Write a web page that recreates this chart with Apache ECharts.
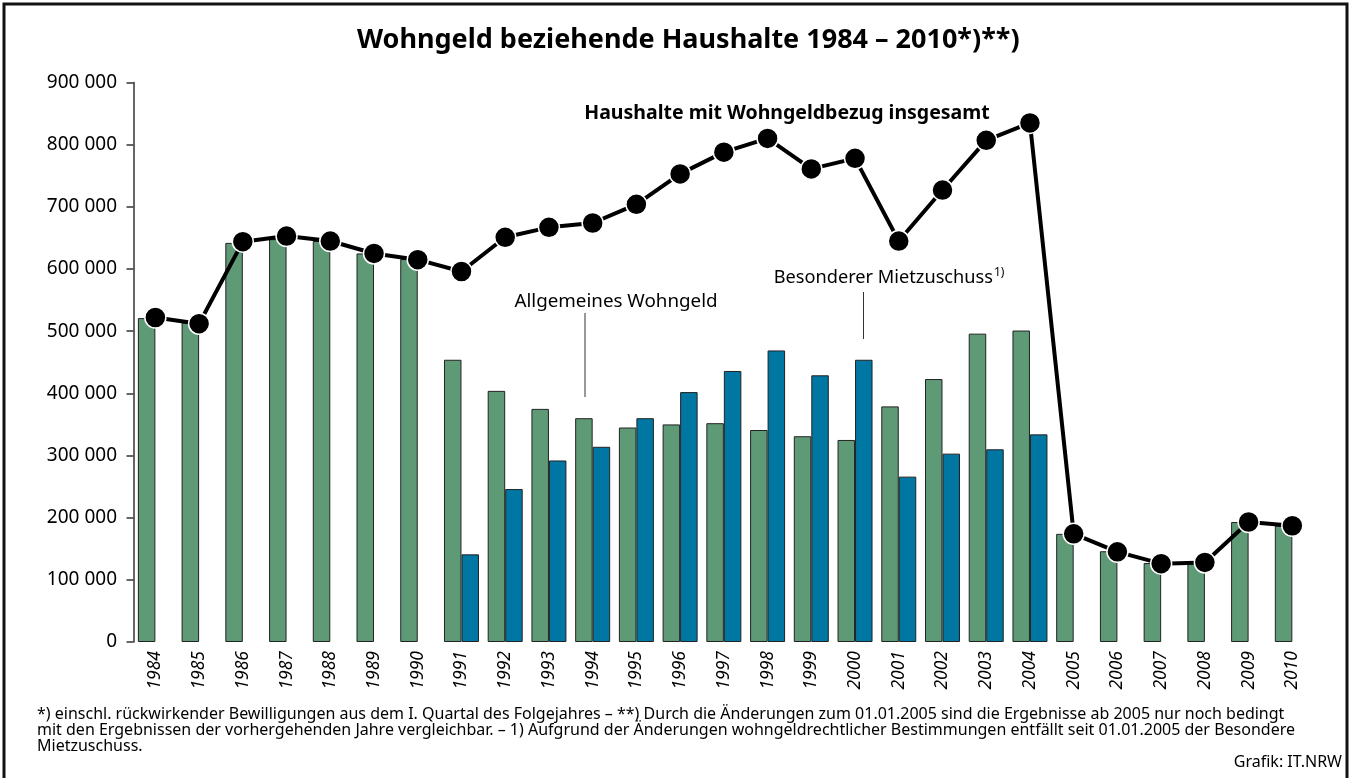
<!DOCTYPE html>
<html>
<head>
<meta charset="utf-8">
<title>Wohngeld beziehende Haushalte 1984 – 2010</title>
<script src="https://cdn.jsdelivr.net/npm/echarts@6/dist/echarts.min.js"></script>
<style>
html,body{margin:0;padding:0;background:#fff;}
#chart{width:1354px;height:778px;}
</style>
</head>
<body>
<div id="chart"></div>
<script>
// Jahre
var years = ['1984','1985','1986','1987','1988','1989','1990','1991','1992','1993','1994','1995','1996','1997',
	'1998','1999','2000','2001','2002','2003','2004','2005','2006','2007','2008','2009','2010'];
// Allgemeines Wohngeld
var allgemein = [521000,514000,642000,648000,645000,625000,616000,454000,404000,375000,360000,345000,350000,352000,
	341000,331000,325000,379000,423000,496000,501000,174000,146000,127000,127000,193000,187000];
// Besonderer Mietzuschuss (bis 2004)
var mietzuschuss = [null,null,null,null,null,null,null,141000,246000,292000,314000,360000,402000,436000,
	469000,429000,454000,266000,303000,310000,334000,null,null,null,null,null,null];
// Haushalte mit Wohngeldbezug insgesamt
var insgesamt = [522000,512000,644000,653000,645000,625000,615000,596000,651000,667000,674000,704000,753000,788000,
	810000,761000,778000,645000,727000,807000,835000,174000,145000,126000,128000,193000,187000];
var yTicks = [0,100000,200000,300000,400000,500000,600000,700000,800000,900000];

var font = 'Noto Sans';

function fmtNumber(v){
	return String(v).replace(/\B(?=(\d{3})+(?!\d))/g,' ');
}

var myChart = echarts.init(document.getElementById('chart'), null, {renderer:'canvas'});
var option = {
	backgroundColor: '#fff',
	animation: false,
	title: {
		text: 'Wohngeld beziehende Haushalte 1984 – 2010*)**)',
		left: 352,
		top: 22,
		textStyle: {fontFamily: font, fontSize: 27, fontWeight: 'bold', color: '#000'}
	},
	grid: {
		left: 133.5,
		right: 39.8,
		top: 82.5,
		bottom: 136,
		containLabel: false
	},
	xAxis: {
		type: 'category',
		data: years,
		axisLine: {show: false},
		axisTick: {show: false},
		axisLabel: {
			rotate: 90,
			margin: 9,
			interval: 0,
			fontFamily: font,
			fontStyle: 'italic',
			fontSize: 17.5,
			color: '#000'
		}
	},
	yAxis: {
		type: 'value',
		min: yTicks[0],
		max: yTicks[yTicks.length-1],
		interval: 100000,
		splitLine: {show: false},
		axisLine: {show: true, lineStyle: {color: '#333', width: 1.5}},
		axisTick: {show: true, length: 7, lineStyle: {color: '#333', width: 1.5}},
		axisLabel: {
			margin: 16.5,
			fontFamily: font,
			fontSize: 19,
			color: '#000',
			formatter: fmtNumber
		}
	},
	series: [
		{
			name: 'Allgemeines Wohngeld',
			type: 'bar',
			data: allgemein,
			barWidth: 17.5,
			barGap: '0%',
			itemStyle: {color: '#5f9a77', borderColor: '#222', borderWidth: 1}
		},
		{
			name: 'Besonderer Mietzuschuss',
			type: 'bar',
			data: mietzuschuss,
			barWidth: 17.5,
			barGap: '0%',
			itemStyle: {color: '#0076a3', borderColor: '#222', borderWidth: 1}
		},
		{
			name: 'Haushalte mit Wohngeldbezug insgesamt',
			type: 'line',
			data: insgesamt,
			z: 5,
			symbol: 'circle',
			symbolSize: 21,
			lineStyle: {color: '#000', width: 4},
			itemStyle: {color: '#000', borderColor: '#fff', borderWidth: 1.5}
		}
	],
	graphic: [
		// Rahmen
		{type: 'rect', shape: {x: 4, y: 4, width: 1343, height: 790}, style: {fill: null, stroke: '#111', lineWidth: 3}, silent: true},
		{type: 'text', x: 787, y: 113, style: {text: 'Haushalte mit Wohngeldbezug insgesamt', fontFamily: font, fontSize: 19.5, fontWeight: 'bold', fill: '#000', textAlign: 'center', textVerticalAlign: 'middle'}},
		{type: 'text', x: 616, y: 302, style: {text: 'Allgemeines Wohngeld', fontFamily: font, fontSize: 18.8, fill: '#000', textAlign: 'center', textVerticalAlign: 'middle'}},
		{type: 'line', shape: {x1: 585, y1: 313, x2: 585, y2: 397}, style: {stroke: '#333', lineWidth: 1}},
		{type: 'text', x: 993, y: 278, style: {text: 'Besonderer Mietzuschuss', fontFamily: font, fontSize: 18.2, fill: '#000', textAlign: 'right', textVerticalAlign: 'middle'}},
		{type: 'text', x: 994, y: 273, style: {text: '1)', fontFamily: font, fontSize: 12, fill: '#000', textAlign: 'left', textVerticalAlign: 'middle'}},
		{type: 'line', shape: {x1: 863.5, y1: 292, x2: 863.5, y2: 339}, style: {stroke: '#333', lineWidth: 1}},
		// Fussnoten
		{type: 'text', x: 37, y: 714, style: {text: '*) einschl. rückwirkender Bewilligungen aus dem I. Quartal des Folgejahres – **) Durch die Änderungen zum 01.01.2005 sind die Ergebnisse ab 2005 nur noch bedingt', fontFamily: font, fontSize: 16, fill: '#000', textVerticalAlign: 'middle'}},
		{type: 'text', x: 37, y: 730, style: {text: 'mit den Ergebnissen der vorhergehenden Jahre vergleichbar. – 1) Aufgrund der Änderungen wohngeldrechtlicher Bestimmungen entfällt seit 01.01.2005 der Besondere', fontFamily: font, fontSize: 16, fill: '#000', textVerticalAlign: 'middle'}},
		{type: 'text', x: 37, y: 746, style: {text: 'Mietzuschuss.', fontFamily: font, fontSize: 16, fill: '#000', textVerticalAlign: 'middle'}},
		{type: 'text', x: 1342, y: 762, style: {text: 'Grafik: IT.NRW', fontFamily: font, fontSize: 16, fill: '#000', textAlign: 'right', textVerticalAlign: 'middle'}}
	]
};
myChart.setOption(option, true);
</script>
</body>
</html>
